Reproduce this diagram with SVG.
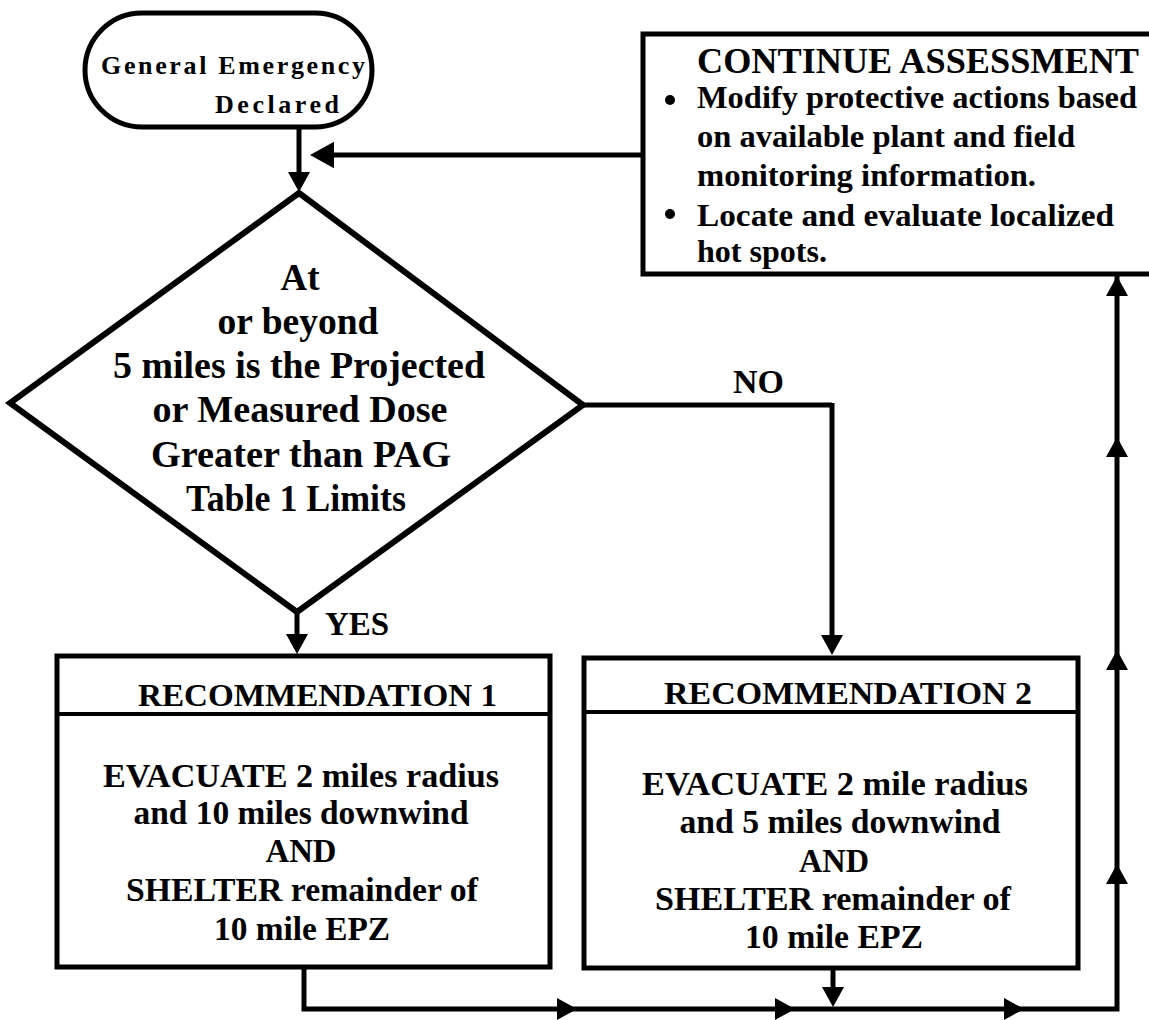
<svg xmlns="http://www.w3.org/2000/svg" xmlns:xlink="http://www.w3.org/1999/xlink" width="1149" height="1020" viewBox="0 0 1149 1020">
<style>
.b{fill:#fff;stroke:#000;stroke-width:5}
.ln{fill:none;stroke:#000;stroke-width:5;stroke-linejoin:miter}
.t{font-family:"Liberation Serif","Times New Roman",serif;font-weight:bold;fill:#000}
.c{text-anchor:middle}
</style>
<defs>
<path id="ah" d="M0,0 L-20,-11 L-20,11 Z" fill="#000"/>
</defs>
<rect width="1149" height="1020" fill="#fff"/>
<g id="start">
<rect class="b" x="85" y="13" width="287" height="114" rx="57" ry="57"/>
<text class="t" x="101" y="74" font-size="26" textLength="264" lengthAdjust="spacing">General Emergency</text>
<text class="t" x="215" y="113" font-size="26" textLength="124" lengthAdjust="spacing">Declared</text>
</g>
<g id="continue">
<rect class="b" x="643" y="34" width="520" height="240"/>
<text class="t" x="697" y="73" font-size="35" textLength="442" lengthAdjust="spacingAndGlyphs">CONTINUE ASSESSMENT</text>
<circle cx="670" cy="100" r="5"/>
<text class="t" x="697" y="108" font-size="32" textLength="440" lengthAdjust="spacingAndGlyphs">Modify protective actions based</text>
<text class="t" x="697" y="147" font-size="32" textLength="378" lengthAdjust="spacingAndGlyphs">on available plant and field</text>
<text class="t" x="697" y="186" font-size="32" textLength="339" lengthAdjust="spacingAndGlyphs">monitoring information.</text>
<circle cx="670" cy="214" r="5"/>
<text class="t" x="697" y="226" font-size="32" textLength="417" lengthAdjust="spacingAndGlyphs">Locate and evaluate  localized</text>
<text class="t" x="697" y="262" font-size="32" textLength="130" lengthAdjust="spacingAndGlyphs">hot spots.</text>
</g>
<g id="decision">
<polygon points="299,193 583,405 297,612 10,403" fill="#fff" stroke="#000" stroke-width="6" stroke-linejoin="miter"/>
<text class="t c" x="300" y="290" font-size="37" textLength="39" lengthAdjust="spacingAndGlyphs">At</text>
<text class="t c" x="298" y="334" font-size="37" textLength="161" lengthAdjust="spacingAndGlyphs">or beyond</text>
<text class="t c" x="299" y="378" font-size="37" textLength="372" lengthAdjust="spacingAndGlyphs">5 miles is the Projected</text>
<text class="t c" x="300" y="422" font-size="37" textLength="295" lengthAdjust="spacingAndGlyphs">or Measured Dose</text>
<text class="t c" x="301" y="467" font-size="37" textLength="300" lengthAdjust="spacingAndGlyphs">Greater than PAG</text>
<text class="t c" x="296" y="511" font-size="37" textLength="220" lengthAdjust="spacingAndGlyphs">Table 1 Limits</text>
</g>
<g id="rec1">
<rect class="b" x="57" y="656" width="493" height="311"/>
<line x1="57" y1="714" x2="550" y2="714" stroke="#000" stroke-width="4"/>
<text class="t" x="138" y="706" font-size="32" textLength="359" lengthAdjust="spacingAndGlyphs">RECOMMENDATION 1</text>
<text class="t c" x="301" y="787" font-size="33" textLength="396" lengthAdjust="spacingAndGlyphs">EVACUATE 2 miles radius</text>
<text class="t c" x="301" y="824" font-size="33" textLength="335" lengthAdjust="spacingAndGlyphs">and 10 miles downwind</text>
<text class="t c" x="301" y="862" font-size="33" textLength="71" lengthAdjust="spacingAndGlyphs">AND</text>
<text class="t c" x="302" y="901" font-size="33" textLength="352" lengthAdjust="spacingAndGlyphs">SHELTER remainder of</text>
<text class="t c" x="302" y="940" font-size="33" textLength="176" lengthAdjust="spacingAndGlyphs">10 mile EPZ</text>
</g>
<g id="rec2">
<rect class="b" x="584" y="658" width="494" height="310"/>
<line x1="584" y1="712" x2="1078" y2="712" stroke="#000" stroke-width="4"/>
<text class="t" x="664" y="704" font-size="32" textLength="368" lengthAdjust="spacingAndGlyphs">RECOMMENDATION 2</text>
<text class="t c" x="835" y="795" font-size="33" textLength="386" lengthAdjust="spacingAndGlyphs">EVACUATE 2 mile radius</text>
<text class="t c" x="840" y="833" font-size="33" textLength="321" lengthAdjust="spacingAndGlyphs">and 5 miles downwind</text>
<text class="t c" x="834" y="872" font-size="33" textLength="70" lengthAdjust="spacingAndGlyphs">AND</text>
<text class="t c" x="833" y="910" font-size="33" textLength="356" lengthAdjust="spacingAndGlyphs">SHELTER remainder of</text>
<text class="t c" x="834" y="948" font-size="33" textLength="178" lengthAdjust="spacingAndGlyphs">10 mile EPZ</text>
</g>
<g id="connectors">
<line class="ln" x1="299" y1="127" x2="299" y2="180"/>
<use xlink:href="#ah" transform="translate(299,192) rotate(90)"/>
<line class="ln" x1="643" y1="155" x2="320" y2="155"/>
<use xlink:href="#ah" transform="translate(310,155) rotate(180) scale(1.2)"/>
<line class="ln" x1="583" y1="405" x2="832" y2="405"/>
<line class="ln" x1="832" y1="403" x2="832" y2="640"/>
<use xlink:href="#ah" transform="translate(832,655) rotate(90)"/>
<text class="t" x="733" y="393" font-size="34">NO</text>
<line class="ln" x1="297" y1="612" x2="297" y2="640"/>
<use xlink:href="#ah" transform="translate(297,654) rotate(90)"/>
<text class="t" x="325" y="635" font-size="33">YES</text>
<polyline class="ln" points="304,967 304,1009 1117,1009 1117,275"/>
<use xlink:href="#ah" transform="translate(577,1009)"/>
<use xlink:href="#ah" transform="translate(795,1009)"/>
<use xlink:href="#ah" transform="translate(1024,1009)"/>
<line class="ln" x1="833" y1="968" x2="833" y2="995"/>
<use xlink:href="#ah" transform="translate(833,1007) rotate(90)"/>
<use xlink:href="#ah" transform="translate(1117,276) rotate(-90)"/>
<use xlink:href="#ah" transform="translate(1117,437) rotate(-90)"/>
<use xlink:href="#ah" transform="translate(1117,650) rotate(-90)"/>
<use xlink:href="#ah" transform="translate(1117,864) rotate(-90)"/>
</g>
</svg>
